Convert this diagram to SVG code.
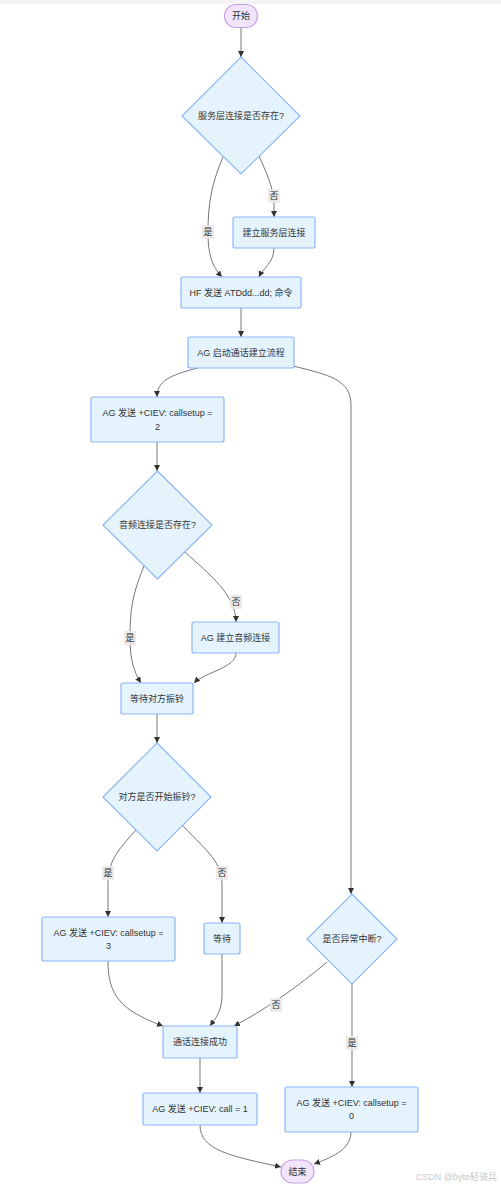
<svg xmlns="http://www.w3.org/2000/svg" width="501" height="1190" viewBox="0 0 501 1190">
<defs>
<style>
text{font-family:"Liberation Sans","Noto Sans CJK SC",sans-serif;font-size:9px;fill:#333;text-anchor:middle;dominant-baseline:central}
.n{fill:#e5f3fd;stroke:#8cb6f5;stroke-width:1.2}
.t{fill:#f1e5fb;stroke:#c79ee8;stroke-width:1.2}
.e{fill:none;stroke:#777;stroke-width:1}
.lb{fill:#e8e8e8;opacity:0.9}
.wm{fill:#c8c8c8;font-size:9px;text-anchor:end}
</style>
<marker id="ah" viewBox="0 0 10 10" refX="10" refY="5" markerWidth="6" markerHeight="6" markerUnits="userSpaceOnUse" orient="auto">
<path d="M0,0 L10,5 L0,10 z" fill="#333"/>
</marker>
</defs>
<rect x="0" y="0" width="501" height="1190" fill="#fff"/>
<rect x="0" y="0" width="501" height="4" fill="#f4f4f4"/>

<g id="connectors">
<path class="e" marker-end="url(#ah)" d="M241,27 L241,57"/>
<path class="e" marker-end="url(#ah)" d="M259,156 C266,172 274,188 274,205 L274,217"/>
<path class="e" marker-end="url(#ah)" d="M223,157 C211,185 208,205 208,232 C208,255 212,266 222,277"/>
<path class="e" marker-end="url(#ah)" d="M274,248 C274,263 263,268 259,277"/>
<path class="e" marker-end="url(#ah)" d="M241,308 L241,337"/>
<path class="e" marker-end="url(#ah)" d="M198,368 C170,375 157,381 157,397"/>
<path class="e" marker-end="url(#ah)" d="M293,366 C330,375 351,380 351,405 L351,894"/>
<path class="e" marker-end="url(#ah)" d="M157,442 L157,471"/>
<path class="e" marker-end="url(#ah)" d="M185,552 C210,575 236,595 236,622"/>
<path class="e" marker-end="url(#ah)" d="M144,566 C132,595 130,610 130,638 C130,660 134,672 141,683"/>
<path class="e" marker-end="url(#ah)" d="M236,653 C236,668 205,672 194,683"/>
<path class="e" marker-end="url(#ah)" d="M157,714 L157,743"/>
<path class="e" marker-end="url(#ah)" d="M136,830 C116,852 108,862 108,885 L108,917"/>
<path class="e" marker-end="url(#ah)" d="M183,826 C208,852 222,862 222,885 L222,923"/>
<path class="e" marker-end="url(#ah)" d="M108,961 C108,995 120,1010 163,1026"/>
<path class="e" marker-end="url(#ah)" d="M222,954 L222,995 C222,1012 215,1019 210,1026"/>
<path class="e" marker-end="url(#ah)" d="M327,962 C300,985 265,1010 234,1026"/>
<path class="e" marker-end="url(#ah)" d="M352,984 L352,1087"/>
<path class="e" marker-end="url(#ah)" d="M200,1058 L200,1093"/>
<path class="e" marker-end="url(#ah)" d="M200,1125 C200,1150 230,1156 281,1167"/>
<path class="e" marker-end="url(#ah)" d="M351,1132 C351,1150 330,1158 314,1164"/>
<g id="edge-labels">
<rect class="lb" x="268" y="189" width="12" height="14"/><text x="274" y="196">否</text>
<rect class="lb" x="202" y="225" width="12" height="14"/><text x="208" y="232">是</text>
<rect class="lb" x="230" y="595" width="12" height="14"/><text x="236" y="602">否</text>
<rect class="lb" x="124" y="631" width="12" height="14"/><text x="130" y="638">是</text>
<rect class="lb" x="102" y="866" width="12" height="14"/><text x="108" y="873">是</text>
<rect class="lb" x="216" y="866" width="12" height="14"/><text x="222" y="873">否</text>
<rect class="lb" x="270" y="998" width="12" height="14"/><text x="276" y="1005">否</text>
<rect class="lb" x="346" y="1036" width="12" height="14"/><text x="352" y="1043">是</text>
</g>
</g>

<g id="start"><rect class="t" x="224.5" y="4.5" width="33" height="23" rx="11.5"/><text x="241" y="16">开始</text></g>
<g id="d1"><path class="n" d="M241,57 L300,116 L241,174 L182,116 Z"/><text x="241" y="116">服务层连接是否存在?</text></g>
<g id="build-service"><rect class="n" x="233" y="217" width="82" height="31" rx="2"/><text x="274" y="233">建立服务层连接</text></g>
<g id="hf-send"><rect class="n" x="181" y="277" width="120" height="31" rx="2"/><text x="241" y="293">HF 发送 ATDdd...dd; 命令</text></g>
<g id="ag-start"><rect class="n" x="188" y="337" width="106" height="31" rx="2"/><text x="241" y="352.5">AG 启动通话建立流程</text></g>
<g id="callsetup2"><rect class="n" x="91" y="397" width="133" height="45" rx="2"/><text x="157.5" y="413">AG 发送 +CIEV: callsetup =</text><text x="157.5" y="427">2</text></g>
<g id="d2"><path class="n" d="M157.5,471 L212,525 L157.5,579 L103,525 Z"/><text x="157.5" y="525">音频连接是否存在?</text></g>
<g id="build-audio"><rect class="n" x="192" y="622" width="87" height="31" rx="2"/><text x="235.5" y="637.5">AG 建立音频连接</text></g>
<g id="wait-ring"><rect class="n" x="121" y="683" width="72" height="31" rx="2"/><text x="157" y="698.5">等待对方振铃</text></g>
<g id="d3"><path class="n" d="M157,743 L211,797 L157,851 L103,797 Z"/><text x="157" y="797">对方是否开始振铃?</text></g>
<g id="callsetup3"><rect class="n" x="42" y="917" width="133" height="44" rx="2"/><text x="108.5" y="933">AG 发送 +CIEV: callsetup =</text><text x="108.5" y="946">3</text></g>
<g id="wait"><rect class="n" x="204" y="923" width="36" height="31" rx="2"/><text x="222" y="938.5">等待</text></g>
<g id="d4"><path class="n" d="M352,894 L397,939 L352,984 L307,939 Z"/><text x="352" y="939">是否异常中断?</text></g>
<g id="connected"><rect class="n" x="163" y="1026" width="74" height="32" rx="2"/><text x="200" y="1042">通话连接成功</text></g>
<g id="call1"><rect class="n" x="143" y="1093" width="114" height="32" rx="2"/><text x="200" y="1109">AG 发送 +CIEV: call = 1</text></g>
<g id="callsetup0"><rect class="n" x="285" y="1087" width="133" height="45" rx="2"/><text x="351.5" y="1103">AG 发送 +CIEV: callsetup =</text><text x="351.5" y="1116">0</text></g>
<g id="end"><rect class="t" x="281" y="1160" width="33" height="23" rx="11.5"/><text x="297.5" y="1171.5">结束</text></g>
<text class="wm" x="497" y="1177">CSDN @byte轻骑兵</text>
</svg>
